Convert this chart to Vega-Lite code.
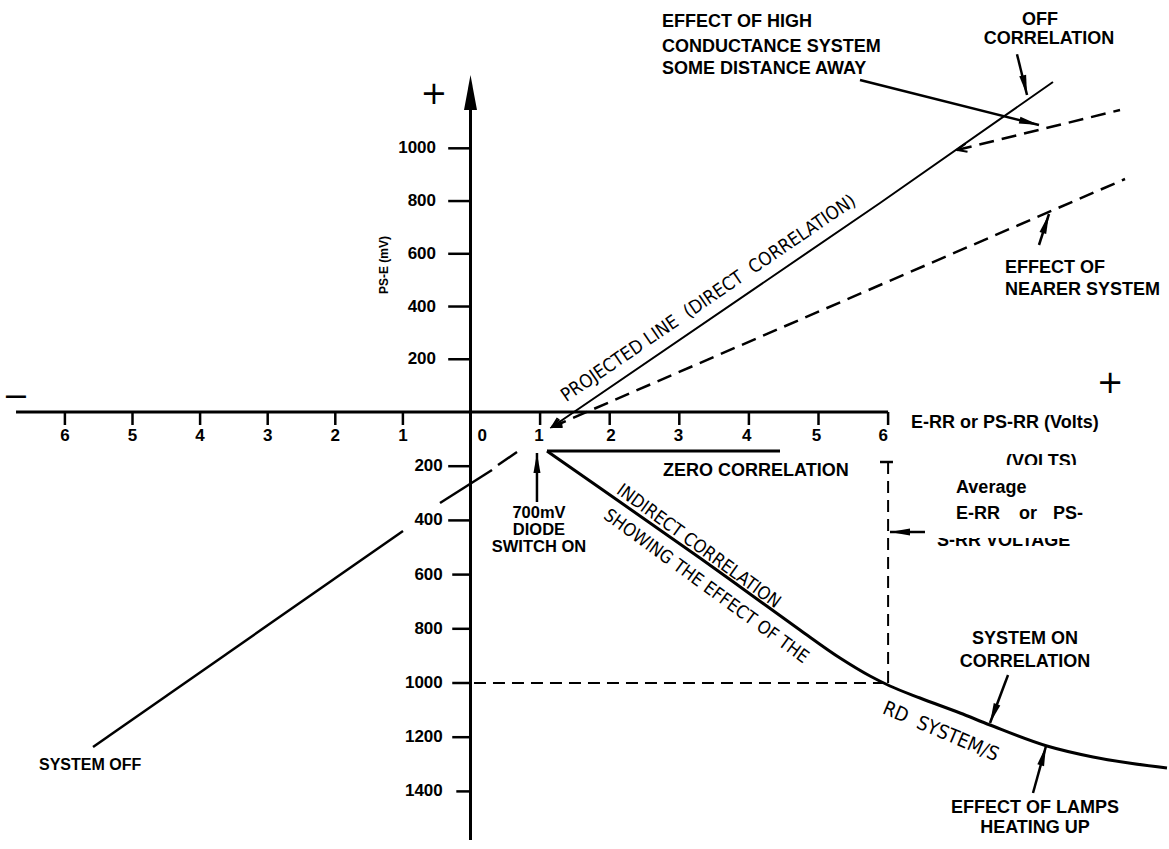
{
"$schema": "https://vega.github.io/schema/vega-lite/v6.json",
"width": 1169, "height": 849, "padding": 0, "autosize": {"type": "none"},
"background": "white",
"config": {"view": {"stroke": null}, "text": {"font": "Liberation Sans", "fontWeight": "bold", "color": "black", "baseline": "middle"}},
"datasets": {
 "thick": [
  {"x": -6.723, "x2": 6.0, "y": 0, "y2": 0},
  {"x": 0, "x2": 0, "y": 1202, "y2": -1579},
  {"x": 1.099, "x2": 4.447, "y": -143.9, "y2": -143.9}
 ],
 "ticks": [
  {"x": -6, "x2": -6, "y": 0, "y2": -48}, {"x": -5, "x2": -5, "y": 0, "y2": -48},
  {"x": -4, "x2": -4, "y": 0, "y2": -48}, {"x": -3, "x2": -3, "y": 0, "y2": -48},
  {"x": -2, "x2": -2, "y": 0, "y2": -48}, {"x": -1, "x2": -1, "y": 0, "y2": -48},
  {"x": 1, "x2": 1, "y": 0, "y2": -48}, {"x": 2, "x2": 2, "y": 0, "y2": -48},
  {"x": 3, "x2": 3, "y": 0, "y2": -48}, {"x": 4, "x2": 4, "y": 0, "y2": -48},
  {"x": 5, "x2": 5, "y": 0, "y2": -48}, {"x": 6, "x2": 6, "y": 0, "y2": -48},
  {"x": -0.33, "x2": 0, "y": 200, "y2": 200}, {"x": -0.33, "x2": 0, "y": 400, "y2": 400},
  {"x": -0.33, "x2": 0, "y": 600, "y2": 600}, {"x": -0.33, "x2": 0, "y": 800, "y2": 800},
  {"x": -0.33, "x2": 0, "y": 1000, "y2": 1000},
  {"x": -0.33, "x2": 0, "y": -200, "y2": -200}, {"x": -0.33, "x2": 0, "y": -400, "y2": -400},
  {"x": -0.27, "x2": 0, "y": -600, "y2": -600}, {"x": -0.27, "x2": 0, "y": -800, "y2": -800},
  {"x": -0.27, "x2": 0, "y": -1000, "y2": -1000}, {"x": -0.27, "x2": 0, "y": -1200, "y2": -1200},
  {"x": -0.21, "x2": 0, "y": -1400, "y2": -1400}
 ],
 "solid": [
  {"x": 5.596, "y": 1259, "x2": 8.168, "y2": 1088.4},
  {"x": 7.852, "y": 1357, "x2": 7.996, "y2": 1202.1},
  {"x": 8.168, "y": 633.3, "x2": 8.312, "y2": 750.9},
  {"x": 6.53, "y": -442.8, "x2": 6.027, "y2": -442.8},
  {"x": 7.723, "y": -970.5, "x2": 7.464, "y2": -1147.6},
  {"x": 8.082, "y": -1405.9, "x2": 8.269, "y2": -1232.5},
  {"x": 0.955, "y": -332.1, "x2": 0.955, "y2": -151.3},
  {"x": -5.584, "y": -1236.2, "x2": -0.9985, "y2": -439.1},
  {"x": -0.4512, "y": -335.8, "x2": 0.309, "y2": -214.0},
  {"x": 0.395, "y": -195.6, "x2": 0.668, "y2": -147.6},
  {"x": 5.884, "y": -184.5, "x2": 6.07, "y2": -184.5}
 ],
 "dashA": [
  {"x": 0.05, "y": -1000, "x2": 6.0, "y2": -1000},
  {"x": 6.0, "y": -184.5, "x2": 6.0, "y2": -1000}
 ],
 "dashB": [
  {"x": 1.171, "y": -55.4, "x2": 9.404, "y2": 883.6},
  {"x": 6.99, "y": 993.6, "x2": 9.332, "y2": 1145.2}
 ],
 "projected": [
  {"o": 1, "x": 1.171, "y": -55.4},
  {"o": 2, "x": 5.884, "y": 792.6}, {"o": 3, "x": 8.369, "y": 1251.4}
 ],
 "indirect": [
  {"o": 1, "x": 1.099, "y": -143.9}, {"o": 2, "x": 1.861, "y": -280.4},
  {"o": 3, "x": 2.579, "y": -409.6}, {"o": 4, "x": 3.297, "y": -538.7},
  {"o": 5, "x": 4.016, "y": -671.6}, {"o": 6, "x": 4.734, "y": -804.4},
  {"o": 7, "x": 5.309, "y": -907.7}, {"o": 8, "x": 5.74, "y": -974.2},
  {"o": 9, "x": 6.027, "y": -1011.1}, {"o": 10, "x": 6.458, "y": -1055.4},
  {"o": 11, "x": 7.033, "y": -1110.7}, {"o": 12, "x": 7.464, "y": -1155.0},
  {"o": 13, "x": 8.283, "y": -1232.5}, {"o": 14, "x": 8.944, "y": -1273.1},
  {"o": 15, "x": 10.007, "y": -1313.7}
 ],
 "heads": [
  {"x": 7.996, "y": 1202.1, "a": 167.5},
  {"x": 8.168, "y": 1088.4, "a": 104.1},
  {"x": 8.312, "y": 750.9, "a": 17.9},
  {"x": 6.027, "y": -442.8, "a": -90},
  {"x": 7.464, "y": -1147.6, "a": -159.4},
  {"x": 8.269, "y": -1232.5, "a": 15.5},
  {"x": 0.955, "y": -151.3, "a": 0}
 ],
 "chevrons": [
  {"x": 1.171, "y": -55.4, "a": -125.3},
  {"x": 1.171, "y": -55.4, "a": -113.4},
  {"x": 6.99, "y": 993.6, "a": -103.8}
 ],
 "bigHead": [{"x": 0, "y": 1278}],
 "mask": [{"x": 6.631, "x2": 8.901, "y": -195.6, "y2": -464.9}],
 "masked": [
  {"t": "(VOLTS)", "x": 7.694, "y": -182.7},
  {"t": "S-RR VOLTAGE", "x": 6.703, "y": -474.2}
 ],
 "leftText": [
  {"t": "EFFECT OF HIGH", "x": 2.751, "y": 1480},
  {"t": "CONDUCTANCE SYSTEM", "x": 2.751, "y": 1385.3},
  {"t": "SOME DISTANCE AWAY", "x": 2.751, "y": 1300.7},
  {"t": "EFFECT OF", "x": 7.68, "y": 546.1},
  {"t": "NEARER SYSTEM", "x": 7.68, "y": 462.6},
  {"t": "E-RR or PS-RR (Volts)", "x": 6.329, "y": -41.8},
  {"t": "ZERO CORRELATION", "x": 2.766, "y": -216.6},
  {"t": "Average", "x": 6.976, "y": -280.4},
  {"t": "E-RR", "x": 6.976, "y": -376.4},
  {"t": "or", "x": 7.881, "y": -376.4},
  {"t": "PS-", "x": 8.368, "y": -376.4}
 ],
 "centerText": [
  {"t": "OFF", "x": 8.182, "y": 1488.4},
  {"t": "CORRELATION", "x": 8.312, "y": 1414.5},
  {"t": "SYSTEM ON", "x": 7.967, "y": -837.6},
  {"t": "CORRELATION", "x": 7.967, "y": -921.4},
  {"t": "EFFECT OF LAMPS", "x": 8.111, "y": -1462.4},
  {"t": "HEATING UP", "x": 8.111, "y": -1536.2}
 ],
 "diodeText": [
  {"t": "700mV", "x": 0.984, "y": -372.7},
  {"t": "DIODE", "x": 0.984, "y": -435.4},
  {"t": "SWITCH ON", "x": 0.984, "y": -498.2}
 ],
 "yLabelsUp": [
  {"t": "200", "x": -0.51, "y": 200}, {"t": "400", "x": -0.51, "y": 400},
  {"t": "600", "x": -0.51, "y": 600}, {"t": "800", "x": -0.51, "y": 800},
  {"t": "1000", "x": -0.51, "y": 1000}
 ],
 "yLabelsDown": [
  {"t": "200", "x": -0.41, "y": -200}, {"t": "400", "x": -0.41, "y": -400},
  {"t": "600", "x": -0.41, "y": -600}, {"t": "800", "x": -0.41, "y": -800},
  {"t": "1000", "x": -0.41, "y": -1000}, {"t": "1200", "x": -0.41, "y": -1200},
  {"t": "1400", "x": -0.41, "y": -1400}
 ],
 "xLabels": [
  {"t": "6", "x": -6, "y": -90}, {"t": "5", "x": -5, "y": -90}, {"t": "4", "x": -4, "y": -90},
  {"t": "3", "x": -3, "y": -90}, {"t": "2", "x": -2, "y": -90}, {"t": "1", "x": -1, "y": -90},
  {"t": "0", "x": 0.17, "y": -90}, {"t": "1", "x": 0.984, "y": -90}, {"t": "2", "x": 2.02, "y": -90},
  {"t": "3", "x": 2.99, "y": -90}, {"t": "4", "x": 3.97, "y": -90}, {"t": "5", "x": 4.97, "y": -90},
  {"t": "6", "x": 5.93, "y": -90}
 ],
 "signs": [
  {"t": "+", "x": -0.54, "y": 1206},
  {"t": "+", "x": 9.19, "y": 110},
  {"t": "\u2212", "x": -6.72, "y": 56.9}
 ],
 "yTitle": [{"t": "PS-E (mV)", "x": -1.28, "y": 557.5}],
 "offText": [{"t": "SYSTEM OFF", "x": -6.383, "y": -1302.6}],
 "rotA": [{"t": "PROJECTED LINE\u00a0\u00a0(DIRECT\u00a0\u00a0CORRELATION)", "x": 3.417, "y": 432.3}],
 "rotB": [
  {"t": "INDIRECT CORRELATION", "x": 3.273, "y": -497},
  {"t": "SHOWING THE EFFECT OF THE", "x": 3.381, "y": -644.6}
 ],
 "rotC": [{"t": "RD\u00a0\u00a0SYSTEM/S", "x": 6.757, "y": -1179.7}]
},
"encoding": {
 "x": {"field": "x", "type": "quantitative", "axis": null,
       "scale": {"domain": [-7, 0, 10], "range": [-2.7, 470.5, 1166.5], "nice": false, "zero": false}},
 "y": {"field": "y", "type": "quantitative", "axis": null,
       "scale": {"domain": [-1600, 0, 1600], "range": [845.6, 412, -9.9], "nice": false, "zero": false}}
},
"layer": [
 {"data": {"name": "masked"}, "mark": {"type": "text", "fontSize": 18, "align": "left"}, "encoding": {"text": {"field": "t"}}},
 {"data": {"name": "mask"}, "mark": {"type": "rect", "color": "white", "opacity": 1}, "encoding": {"x2": {"field": "x2"}, "y2": {"field": "y2"}}},
 {"data": {"name": "thick"}, "mark": {"type": "rule", "strokeWidth": 3, "color": "black"}, "encoding": {"x2": {"field": "x2"}, "y2": {"field": "y2"}}},
 {"data": {"name": "ticks"}, "mark": {"type": "rule", "strokeWidth": 2.5, "color": "black"}, "encoding": {"x2": {"field": "x2"}, "y2": {"field": "y2"}}},
 {"data": {"name": "solid"}, "mark": {"type": "rule", "strokeWidth": 2.5, "color": "black"}, "encoding": {"x2": {"field": "x2"}, "y2": {"field": "y2"}}},
 {"data": {"name": "dashA"}, "mark": {"type": "rule", "strokeWidth": 2, "color": "black", "strokeDash": [12, 7]}, "encoding": {"x2": {"field": "x2"}, "y2": {"field": "y2"}}},
 {"data": {"name": "dashB"}, "mark": {"type": "rule", "strokeWidth": 2.5, "color": "black", "strokeDash": [15, 8]}, "encoding": {"x2": {"field": "x2"}, "y2": {"field": "y2"}}},
 {"data": {"name": "projected"}, "mark": {"type": "line", "strokeWidth": 2, "color": "black"}, "encoding": {"order": {"field": "o"}}},
 {"data": {"name": "indirect"}, "mark": {"type": "line", "strokeWidth": 3, "color": "black", "interpolate": "monotone"}, "encoding": {"order": {"field": "o"}}},
 {"data": {"name": "heads"}, "mark": {"type": "point", "shape": "M0,0L0.35,2L-0.35,2Z", "filled": true, "size": 400, "color": "black", "opacity": 1}, "encoding": {"angle": {"field": "a", "type": "quantitative", "scale": null}}},
 {"data": {"name": "chevrons"}, "mark": {"type": "point", "shape": "M-0.6,1.4L0,0L0.6,1.4", "filled": false, "size": 196, "color": "black", "strokeWidth": 2, "opacity": 1}, "encoding": {"angle": {"field": "a", "type": "quantitative", "scale": null}}},
 {"data": {"name": "bigHead"}, "mark": {"type": "point", "shape": "M0,0L0.37,2L-0.37,2Z", "filled": true, "size": 1225, "color": "black", "opacity": 1}},
 {"data": {"name": "leftText"}, "mark": {"type": "text", "fontSize": 18, "align": "left"}, "encoding": {"text": {"field": "t"}}},
 {"data": {"name": "centerText"}, "mark": {"type": "text", "fontSize": 18, "align": "center"}, "encoding": {"text": {"field": "t"}}},
 {"data": {"name": "diodeText"}, "mark": {"type": "text", "fontSize": 16.5, "align": "center"}, "encoding": {"text": {"field": "t"}}},
 {"data": {"name": "yLabelsUp"}, "mark": {"type": "text", "fontSize": 17, "align": "right"}, "encoding": {"text": {"field": "t"}}},
 {"data": {"name": "yLabelsDown"}, "mark": {"type": "text", "fontSize": 17, "align": "right"}, "encoding": {"text": {"field": "t"}}},
 {"data": {"name": "xLabels"}, "mark": {"type": "text", "fontSize": 17, "align": "center"}, "encoding": {"text": {"field": "t"}}},
 {"data": {"name": "signs"}, "mark": {"type": "text", "fontSize": 32, "align": "center", "font": "DejaVu Sans", "fontWeight": "normal"}, "encoding": {"text": {"field": "t"}}},
 {"data": {"name": "yTitle"}, "mark": {"type": "text", "fontSize": 12, "align": "center", "angle": 270}, "encoding": {"text": {"field": "t"}}},
 {"data": {"name": "offText"}, "mark": {"type": "text", "fontSize": 16, "align": "left"}, "encoding": {"text": {"field": "t"}}},
 {"data": {"name": "rotA"}, "mark": {"type": "text", "fontSize": 18.5, "align": "center", "angle": -34.3, "font": "Liberation Sans Narrow, DejaVu Sans Condensed, Roboto", "fontWeight": "normal"}, "encoding": {"text": {"field": "t"}}},
 {"data": {"name": "rotB"}, "mark": {"type": "text", "fontSize": 18, "align": "center", "angle": 36, "font": "Liberation Sans Narrow, DejaVu Sans Condensed, Roboto", "fontWeight": "normal"}, "encoding": {"text": {"field": "t"}}},
 {"data": {"name": "rotC"}, "mark": {"type": "text", "fontSize": 19.5, "align": "center", "angle": 23, "font": "Liberation Sans Narrow, DejaVu Sans Condensed, Roboto", "fontWeight": "normal"}, "encoding": {"text": {"field": "t"}}}
]
}
